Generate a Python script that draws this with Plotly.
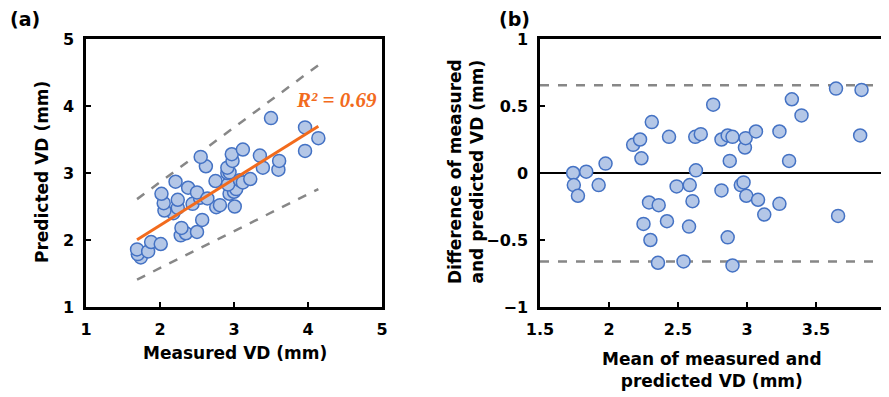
import numpy as np
import plotly.graph_objects as go

# ---- data ----
measured = [1.74, 1.70, 1.69, 1.84, 1.88, 2.01, 2.28, 2.35, 2.29, 2.50,
            2.18, 2.24, 2.06, 2.05, 2.02, 2.24, 2.57, 2.44, 2.21, 2.38,
            2.54, 2.50, 2.76, 2.81, 2.64, 3.01, 2.75, 2.94, 3.00, 3.03,
            2.92, 2.62, 2.55, 2.91, 2.94, 3.08, 3.12, 2.91, 3.22, 2.98,
            2.97, 3.39, 3.12, 3.35, 3.60, 3.61, 3.96, 3.50, 4.14, 3.96]
predicted = [1.74, 1.79, 1.86, 1.83, 1.97, 1.94, 2.07, 2.10, 2.18, 2.12,
             2.40, 2.48, 2.44, 2.55, 2.69, 2.60, 2.30, 2.54, 2.87, 2.78,
             2.63, 2.71, 2.49, 2.52, 2.62, 2.50, 2.88, 2.69, 2.72, 2.76,
             2.83, 3.10, 3.24, 3.00, 3.01, 2.89, 2.86, 3.08, 2.91, 3.18,
             3.28, 3.08, 3.35, 3.26, 3.05, 3.18, 3.33, 3.82, 3.52, 3.68]

band_x = [1.69, 4.14]
band_upper = [2.61, 4.61]
band_lower = [1.41, 2.76]

loa_upper = 0.655
loa_lower = -0.66
r2_text = "R² = 0.69"

a_ticks = [1, 2, 3, 4, 5]
b_xticks = [1.5, 2, 2.5, 3, 3.5, 4]
b_yticks = [-1, -0.5, 0, 0.5, 1]

# ---- derived ----
m = np.array(measured)
p = np.array(predicted)
mean_mp = (m + p) / 2
diff_mp = m - p
slope, intercept = np.polyfit(m, p, 1)
fit_x = np.array([m.min(), m.max()])
fit_y = slope * fit_x + intercept

FILL = "#B4C7E7"
EDGE = "#4472C4"
ORANGE = "#F26B1D"
GREY = "#878787"
FONT = "DejaVu Sans, Arial, sans-serif"

# page body has an 8px margin; size the figure so it fits the window
OFF = 8
W, H = 889 - OFF, 397 - OFF


def px(X):
    return (X - OFF) / W


def py(Y):
    return 1 - (Y - OFF) / H


fig = go.Figure()

marker = dict(size=13, color=FILL, line=dict(color=EDGE, width=1.5))

# panel (a)
fig.add_trace(go.Scatter(x=band_x, y=band_upper, mode="lines",
                         line=dict(color=GREY, width=2.5, dash="dash"),
                         xaxis="x", yaxis="y", showlegend=False))
fig.add_trace(go.Scatter(x=band_x, y=band_lower, mode="lines",
                         line=dict(color=GREY, width=2.5, dash="dash"),
                         xaxis="x", yaxis="y", showlegend=False))
fig.add_trace(go.Scatter(x=measured, y=predicted, mode="markers", marker=marker,
                         xaxis="x", yaxis="y", showlegend=False))
fig.add_trace(go.Scatter(x=fit_x, y=fit_y, mode="lines",
                         line=dict(color=ORANGE, width=3),
                         xaxis="x", yaxis="y", showlegend=False))

# panel (b)
fig.add_trace(go.Scatter(x=[1.5, 4], y=[loa_upper, loa_upper], mode="lines",
                         line=dict(color=GREY, width=2.5, dash="dash"),
                         xaxis="x2", yaxis="y2", showlegend=False))
fig.add_trace(go.Scatter(x=[1.5, 4], y=[loa_lower, loa_lower], mode="lines",
                         line=dict(color=GREY, width=2.5, dash="dash"),
                         xaxis="x2", yaxis="y2", showlegend=False))
fig.add_trace(go.Scatter(x=[1.5, 4], y=[0, 0], mode="lines",
                         line=dict(color="black", width=2),
                         xaxis="x2", yaxis="y2", showlegend=False))
fig.add_trace(go.Scatter(x=mean_mp, y=diff_mp, mode="markers", marker=marker,
                         xaxis="x2", yaxis="y2", showlegend=False))

tickfont = dict(family=FONT, size=16, color="black", weight="bold")
axis_common = dict(showline=True, linecolor="black", linewidth=2.5, mirror=True,
                   ticks="inside", ticklen=5, tickwidth=2, tickcolor="black",
                   showgrid=False, zeroline=False, tickfont=tickfont,
                   automargin=False)

y0, y1 = py(307), py(39)

fig.update_layout(
    width=W, height=H,
    margin=dict(l=0, r=0, t=0, b=0, autoexpand=False),
    paper_bgcolor="white", plot_bgcolor="white",
    xaxis=dict(domain=[px(86), px(382)], range=[1, 5], tickvals=a_ticks,
               anchor="y", ticklabelstandoff=6, **axis_common),
    yaxis=dict(domain=[y0, y1], range=[1, 5], tickvals=a_ticks,
               anchor="x", ticklabelstandoff=6, **axis_common),
    xaxis2=dict(domain=[px(540), px(885)], range=[1.5, 4], tickvals=b_xticks,
                ticktext=[str(v) for v in b_xticks], anchor="y2",
                ticklabelstandoff=6, **axis_common),
    yaxis2=dict(domain=[y0, y1], range=[-1, 1], tickvals=b_yticks,
                ticktext=["\u22121", "\u22120.5", "0", "0.5", "1"],
                anchor="x2", ticklabelstandoff=6, **axis_common),
)

titlefont = dict(family=FONT, size=17, color="black", weight="bold")
ann = [
    dict(text="(a)", x=px(8), y=py(19), xanchor="left", yanchor="middle",
         font=dict(family=FONT, size=19, color="black", weight="bold")),
    dict(text="(b)", x=px(497), y=py(19), xanchor="left", yanchor="middle",
         font=dict(family=FONT, size=19, color="black", weight="bold")),
    dict(text="Measured VD (mm)", x=px(235), y=py(353),
         xanchor="center", yanchor="middle", font=titlefont),
    dict(text="Predicted VD (mm)", x=px(42), y=py(172), textangle=-90,
         xanchor="center", yanchor="middle", font=titlefont),
    dict(text="Mean of measured and<br>predicted VD (mm)", x=px(712), y=py(370),
         xanchor="center", yanchor="middle", font=titlefont),
    dict(text="Difference of measured<br>and predicted VD (mm)", x=px(466), y=py(172),
         textangle=-90, xanchor="center", yanchor="middle", font=titlefont),
    dict(text="<b><i>" + r2_text + "</i></b>", x=px(336), y=py(100),
         xanchor="center", yanchor="middle",
         font=dict(family="Liberation Serif, Times New Roman, serif", size=21, color=ORANGE)),
]
for a in ann:
    a.update(xref="paper", yref="paper", showarrow=False)
fig.update_layout(annotations=ann)

fig.write_html("out.html")
